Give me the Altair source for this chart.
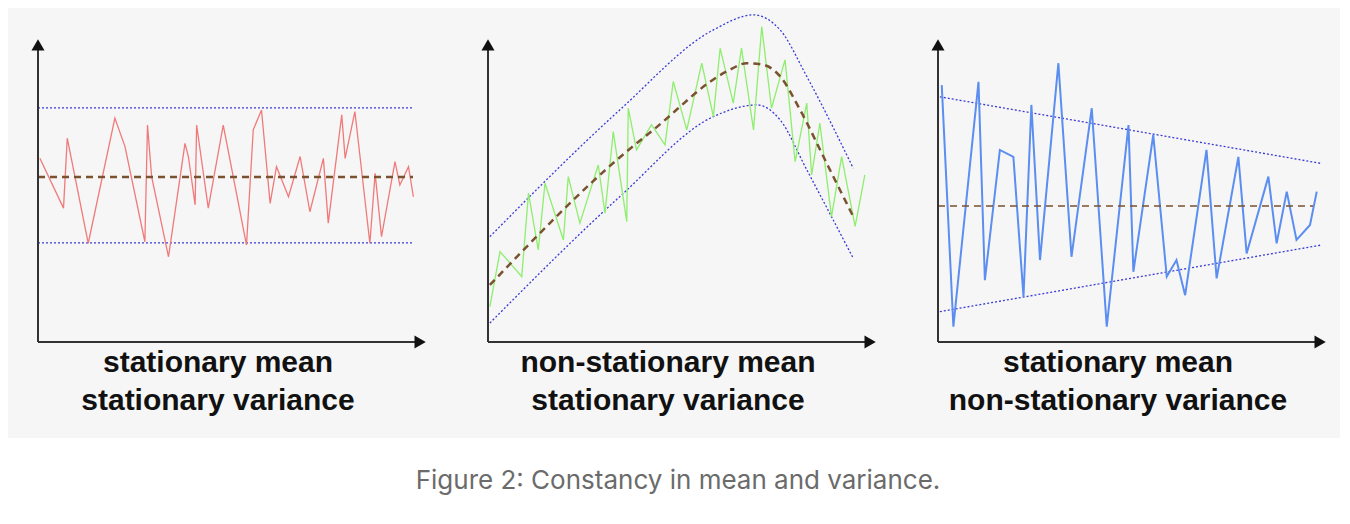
import altair as alt
import pandas as pd

# panel 1: stationary mean, stationary variance
p1_x = [0.5, 6.8, 7.8, 13.4, 20.5, 23.2, 28.5, 29.2, 30.3, 34.8, 39.2, 40.1, 41.9, 42.3, 45.4, 49.4, 55.6, 57.4,
        59.6, 61.9, 63.6, 66.8, 69.9, 72.5, 76.1, 77.4, 81.0, 81.9, 84.5, 88.5, 89.9, 91.6, 95.2, 96.5, 98.8, 100.1]
p1_y = [61.2, 44.6, 67.9, 32.9, 74.6, 65.1, 33.4, 72.3, 55.1, 28.4, 66.2, 61.8, 45.7, 72.3, 44.6, 72.3, 32.3, 70.7,
        77.3, 46.2, 58.4, 48.4, 61.8, 43.4, 61.2, 39.6, 75.7, 61.2, 76.8, 32.9, 56.2, 35.1, 60.1, 52.3, 58.4, 48.4]
p1_mean_x = [0, 100]
p1_mean_y = [55, 55]
p1_up_x = [0, 100]
p1_up_y = [78, 78]
p1_lo_x = [0, 100]
p1_lo_y = [33, 33]

# panel 2: non-stationary mean, stationary variance
p2_x = [0.5, 3.2, 9.0, 10.8, 13.4, 15.2, 20.1, 21.4, 24.5, 29.4, 31.2, 33.4, 37.0, 37.4, 39.6, 43.6, 47.2, 49.4,
        53.0, 57.0, 60.1, 61.9, 65.4, 67.6, 70.8, 73.0, 75.6, 79.2, 81.9, 85.0, 86.3, 88.5, 91.6, 94.3, 97.9, 100.5]
p2_y = [11.8, 30.1, 21.8, 49.6, 30.7, 52.9, 34.0, 55.1, 39.6, 59.0, 42.9, 70.1, 40.1, 77.9, 64.0, 72.4, 65.7, 86.8,
        70.7, 92.9, 75.1, 97.9, 79.6, 97.9, 70.7, 105.1, 77.9, 94.0, 60.1, 79.6, 55.7, 72.9, 41.8, 61.8, 38.5, 55.7]
p2_mean_x = [0.5, 37.0, 44.1, 63.6, 69.0, 73.4, 77.9, 83.2, 90.3, 97.4]
p2_mean_y = [19.0, 63.5, 70.7, 90.1, 92.9, 92.4, 88.5, 77.4, 59.6, 41.8]
p2_up_x = [0.5, 35.2, 60.1, 70.8, 77.9, 85.0, 97.4]
p2_up_y = [35.1, 77.4, 104.0, 109.0, 104.0, 88.5, 57.9]
p2_lo_x = [0.5, 35.2, 60.1, 71.7, 77.9, 85.0, 97.4]
p2_lo_y = [6.3, 48.5, 75.1, 79.0, 74.0, 57.4, 27.9]

# panel 3: stationary mean, non-stationary variance
p3_x = [1.0, 4.1, 10.8, 12.5, 16.5, 20.1, 22.8, 24.9, 27.2, 32.1, 35.6, 41.0, 45.0, 50.8, 52.1, 57.4, 61.0, 63.6,
        65.9, 71.6, 74.3, 80.1, 82.3, 88.1, 90.3, 93.0, 95.6, 99.2, 101.0]
p3_y = [85.6, 5.1, 86.7, 20.6, 64.0, 61.7, 15.1, 79.0, 27.3, 92.9, 28.4, 77.9, 5.1, 72.3, 23.4, 69.0, 21.8, 27.3,
        15.6, 64.0, 21.2, 61.7, 29.5, 55.1, 32.9, 50.1, 34.0, 39.0, 50.1]
p3_mean_x = [0, 100]
p3_mean_y = [45.3, 45.3]
p3_up_x = [0.5, 102.2]
p3_up_y = [81.7, 59.5]
p3_lo_x = [0.5, 102.2]
p3_lo_y = [10.1, 32.3]

titles = [
    ("stationary mean", "stationary variance"),
    ("non-stationary mean", "stationary variance"),
    ("stationary mean", "non-stationary variance"),
]
caption = "Figure 2: Constancy in mean and variance."

PANEL_W = 444
PANEL_H = 430
PX_PER_UNIT = 3.75
Y_DOM = [-32, 111.3]
AXIS_X_END = 101.9
AXIS_Y_END = 99


def _xy(xs, ys):
    return pd.DataFrame({"x": xs, "y": ys})


def make_panel(sx, sy, mx, my, ux, uy, lx, ly, color, width, mean_width, interp, title, left_px):
    left = -left_px / PX_PER_UNIT
    xs = alt.Scale(domain=[left, left + PANEL_W / PX_PER_UNIT], nice=False, zero=False)
    ys = alt.Scale(domain=Y_DOM, nice=False, zero=False)
    enc = dict(x=alt.X("x:Q", scale=xs, axis=None), y=alt.Y("y:Q", scale=ys, axis=None), order="x:Q")

    band_up = alt.Chart(_xy(ux, uy)).mark_line(
        color="#3b3bd6", strokeWidth=1.3, strokeDash=[2, 2], interpolate=interp, clip=False).encode(**enc)
    band_lo = alt.Chart(_xy(lx, ly)).mark_line(
        color="#3b3bd6", strokeWidth=1.3, strokeDash=[2, 2], interpolate=interp, clip=False).encode(**enc)
    series = alt.Chart(_xy(sx, sy)).mark_line(color=color, strokeWidth=width).encode(**enc)
    mean = alt.Chart(_xy(mx, my)).mark_line(
        color="#7a5230", strokeWidth=mean_width, strokeDash=[7, 5], interpolate=interp).encode(**enc)

    axes_df = pd.DataFrame({"x": [0, 0], "y": [0, 0], "x2": [0, AXIS_X_END], "y2": [AXIS_Y_END, 0]})
    axes = alt.Chart(axes_df).mark_rule(color="#333333", strokeWidth=2).encode(
        x=alt.X("x:Q", scale=xs, axis=None), y=alt.Y("y:Q", scale=ys, axis=None), x2="x2", y2="y2")
    heads_df = pd.DataFrame({"x": [0, AXIS_X_END], "y": [AXIS_Y_END, 0],
                             "shape": ["triangle-up", "triangle-right"]})
    heads = alt.Chart(heads_df).mark_point(filled=True, size=170, color="#111111", opacity=1).encode(
        x=alt.X("x:Q", scale=xs, axis=None), y=alt.Y("y:Q", scale=ys, axis=None),
        shape=alt.Shape("shape:N", scale=None, legend=None))

    text_df = pd.DataFrame({"x": [48, 48], "y": [-7, -19.6], "t": list(title)})
    label = alt.Chart(text_df).mark_text(
        font="Liberation Sans", fontSize=30, fontWeight="bold", color="#111111", baseline="middle").encode(
        x=alt.X("x:Q", scale=xs, axis=None), y=alt.Y("y:Q", scale=ys, axis=None), text="t:N")

    return alt.layer(band_up, band_lo, series, mean, axes, heads, label).properties(
        width=PANEL_W, height=PANEL_H, view=alt.ViewBackground(fill="#f6f6f6", stroke=None))


panel1 = make_panel(p1_x, p1_y, p1_mean_x, p1_mean_y, p1_up_x, p1_up_y, p1_lo_x, p1_lo_y,
                    "#f07a7a", 1.3, 2.5, "linear", titles[0], 30)
panel2 = make_panel(p2_x, p2_y, p2_mean_x, p2_mean_y, p2_up_x, p2_up_y, p2_lo_x, p2_lo_y,
                    "#8eee6e", 1.3, 2.5, "monotone", titles[1], 36)
panel3 = make_panel(p3_x, p3_y, p3_mean_x, p3_mean_y, p3_up_x, p3_up_y, p3_lo_x, p3_lo_y,
                    "#5b8ef0", 2, 1.6, "linear", titles[2], 42)

cap = alt.Chart(pd.DataFrame({"t": [caption]})).mark_text(
    font="Inter", fontSize=26, color="#6b6b6b", baseline="middle").encode(
    x=alt.value(PANEL_W * 3 / 2 + 4), y=alt.value(43), text="t:N").properties(
    width=PANEL_W * 3, height=76, view=alt.ViewBackground(fill="white", stroke=None))

chart = alt.vconcat(alt.hconcat(panel1, panel2, panel3, spacing=0), cap, spacing=0).configure(
    padding=0).configure_view(stroke=None)

chart.save("out.html", embed_options={"renderer": "svg", "actions": False})
